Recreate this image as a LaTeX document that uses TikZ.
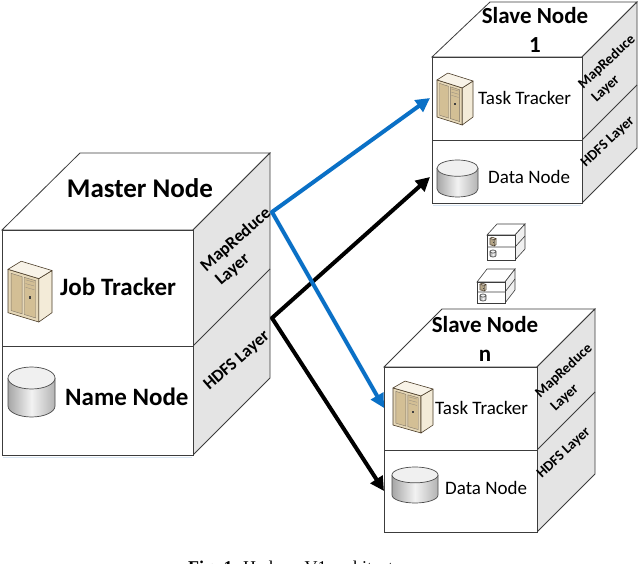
\documentclass[tikz,border=0pt]{standalone}
\usepackage{fontspec}
\setmainfont{Carlito}
\newfontfamily\capfont{Liberation Serif}
\usetikzlibrary{arrows.meta}
\definecolor{edge}{HTML}{3C3C3C}
\definecolor{sideg}{HTML}{E4E4E4}
\definecolor{arrblue}{HTML}{0A70C6}
\definecolor{beigeF}{HTML}{E6D8B8}
\definecolor{beigeS}{HTML}{F3EBD8}
\definecolor{beigeT}{HTML}{F8F3E8}
\definecolor{beigeP}{HTML}{D3BF95}
\definecolor{srvedge}{HTML}{4A3C28}
\definecolor{shadowblue}{HTML}{D6E4F2}
\tikzset{
  face/.style={draw=edge, line width=0.8pt, fill=white},
  sideface/.style={draw=edge, line width=0.8pt, fill=sideg},
  divline/.style={draw=edge, line width=0.8pt},
  shline/.style={draw=shadowblue, line width=1pt},
  srvline/.style={draw=srvedge, line width=0.6pt, line join=round},
  panel/.style={draw=srvedge!70, line width=0.4pt, fill=beigeP},
  dbline/.style={draw=black!70, line width=0.7pt},
  bigtitle/.style={font=\bfseries\fontsize{27}{32}\selectfont, inner sep=0pt},
  bigtext/.style={font=\bfseries\fontsize{25}{30}\selectfont, inner sep=0pt, anchor=west},
  slavetitle/.style={font=\bfseries\fontsize{23}{29}\selectfont, inner sep=0pt, align=center},
  slavetext/.style={font=\fontsize{19}{22}\selectfont, inner sep=0pt, anchor=west},
  bigside/.style={font=\bfseries\fontsize{17.5}{20}\selectfont, inner sep=0pt, rotate=41},
  smallside/.style={font=\bfseries\fontsize{14.5}{17}\selectfont, inner sep=0pt, rotate=43},
  bluearrow/.style={draw=arrblue, line width=4pt, -{Triangle[length=14pt,width=14pt]}},
  blackarrow/.style={draw=black, line width=4pt, -{Triangle[length=14pt,width=14pt]}},
  caption/.style={font=\capfont\fontsize{18}{20}\selectfont, inner sep=0pt, anchor=base west}
}
% server icon in box (x,y) size w x h (pixel units, y down)
\newcommand\srvicon[4]{%
  \begin{scope}[shift={(#1,#2)},x=#3pt,y=-#4pt]
    \draw[srvline, fill=beigeF] (0,0.15) -- (0.7,0.3) -- (0.7,1) -- (0,0.85) -- cycle;
    \draw[srvline, fill=beigeS] (0.7,0.3) -- (1,0.17) -- (1,0.85) -- (0.7,1) -- cycle;
    \draw[srvline, fill=beigeT] (0,0.15) -- (0.3,0.02) -- (1,0.17) -- (0.7,0.3) -- cycle;
    \draw[panel] (0.07,0.215) -- (0.32,0.269) -- (0.32,0.869) -- (0.07,0.815) -- cycle;
    \draw[panel] (0.37,0.279) -- (0.63,0.335) -- (0.63,0.935) -- (0.37,0.879) -- cycle;
    \foreach \v in {0.30,0.36,0.42}{\draw[srvedge!60, line width=0.3pt] (0.40,\v+0.02) -- (0.60,\v+0.06);}
    \fill[black!75] (0.47,0.58) rectangle (0.53,0.63);
  \end{scope}}
% database icon
\newcommand\dbicon[4]{%
  \begin{scope}[shift={(#1,#2)},x=#3pt,y=-#4pt]
    \shade[left color=black!35, right color=black!30, middle color=black!5]
      (0,0.22) -- (0,0.78) arc[start angle=180, end angle=0, x radius=0.5, y radius=0.22]
      -- (1,0.22) arc[start angle=0, end angle=180, x radius=0.5, y radius=0.22] -- cycle;
    \draw[dbline] (0,0.22) -- (0,0.78) arc[start angle=180, end angle=0, x radius=0.5, y radius=0.22] -- (1,0.22);
    \draw[dbline, fill=black!6] (0.5,0.22) ellipse [x radius=0.5, y radius=0.22];
  \end{scope}}
\begin{document}
\begin{tikzpicture}[x=1pt,y=-1pt]
\useasboundingbox (0,0) rectangle (640,564);
\clip (0,0) rectangle (640,564);
\fill[white] (0,0) rectangle (640,564);

% ---------------- Master node cube ----------------
\draw[face] (2,230) -- (80,153) -- (270,153) -- (193,230) -- cycle;
\draw[sideface] (193,230) -- (270,153) -- (270,378) -- (193,455) -- cycle;
\draw[divline] (193,346) -- (270,269);
\draw[shline] (3,348.5) -- (192,348.5);
\draw[shline] (3,457.5) -- (192,457.5);
\draw[face] (2,230) rectangle (193,455);
\draw[divline] (2,346) -- (193,346);
\node[bigtitle] (mtitle) at (140,188) {Master Node};
\srvicon{8}{260}{44}{62}
\node[bigtext] (jt) at (60,287) {Job Tracker};
\dbicon{8}{367}{47}{50}
\node[bigtext] (nn) at (65,397) {Name Node};
\node[bigside] (mmr) at (236,240) {MapReduce};
\node[bigside] (mly) at (233,270) {Layer};
\node[bigside] (mhd) at (237,361) {HDFS Layer};

% ---------------- Slave node 1 ----------------
\draw[face] (432,57) -- (490,2) -- (637,2) -- (582,57) -- cycle;
\draw[sideface] (582,57) -- (637,2) -- (637,148) -- (582,203) -- cycle;
\draw[divline] (582,140) -- (637,85);
\draw[shline] (433,142.5) -- (581,142.5);
\draw[shline] (433,205.5) -- (581,205.5);
\draw[face] (432,57) rectangle (582,203);
\draw[divline] (432,140) -- (582,140);
\node[slavetitle] (s1title) at (535,30) {Slave Node\\1};
\srvicon{437}{72}{36}{53}
\node[slavetext] (s1tt) at (478,98) {Task Tracker};
\dbicon{437}{160}{41}{37}
\node[slavetext] (s1dn) at (488,177) {Data Node};
\node[smallside] (s1mr) at (607,62) {MapReduce};
\node[smallside] (s1ly) at (606,89) {Layer};
\node[smallside] (s1hd) at (608,142) {HDFS Layer};

% ---------------- small cubes ----------------
\draw[face, line width=0.6pt] (487,235) -- (497,224) -- (525,224) -- (515,235) -- cycle;
\draw[sideface, line width=0.6pt, fill=black!6] (515,235) -- (525,224) -- (525,249) -- (515,260) -- cycle;
\draw[face, line width=0.6pt] (487,235) rectangle (515,260);
\draw[divline, line width=0.6pt] (487,247) -- (515,247) -- (525,236);
\srvicon{490}{237}{6}{9}
\dbicon{490}{250}{6}{7}

\draw[face, line width=0.6pt] (477,282) -- (487,269) -- (515,269) -- (505,282) -- cycle;
\draw[sideface, line width=0.6pt, fill=black!6] (505,282) -- (515,269) -- (515,290) -- (505,303) -- cycle;
\draw[face, line width=0.6pt] (477,282) rectangle (505,303);
\draw[divline, line width=0.6pt] (477,292) -- (505,292) -- (515,279);
\srvicon{480}{283}{6}{8}
\dbicon{480}{294}{6}{7}

% ---------------- Slave node n ----------------
\draw[face] (384,367) -- (442,309) -- (595,309) -- (537,367) -- cycle;
\draw[sideface] (537,367) -- (595,309) -- (595,474) -- (537,532) -- cycle;
\draw[divline] (537,450) -- (595,392);
\draw[shline] (385,452.5) -- (536,452.5);
\draw[face] (384,367) rectangle (537,532);
\draw[divline] (384,450) -- (537,450);
\node[slavetitle] (sntitle) at (485,339) {Slave Node\\n};
\srvicon{393}{380}{40}{53}
\node[slavetext] (sntt) at (435,408) {Task Tracker};
\dbicon{392}{467}{46}{36}
\node[slavetext] (sndn) at (445,488) {Data Node};
\node[smallside] (snmr) at (564,371) {MapReduce};
\node[smallside] (snly) at (565,398) {Layer};
\node[smallside] (snhd) at (564,453) {HDFS Layer};

% ---------------- connectors ----------------
\coordinate (mMR) at (272,212);
\coordinate (mHD) at (272,318);
\coordinate (s1in) at (430,98);
\coordinate (s1din) at (430,177);
\coordinate (snin) at (384,408);
\coordinate (sndin) at (384,491);
\draw[blackarrow] (mHD) -- (s1din);
\draw[blackarrow] (mHD) -- (sndin);
\draw[bluearrow] (mMR) -- (s1in);
\draw[bluearrow] (mMR) -- (snin);
\fill[arrblue] (mMR) circle (2pt);
\fill[black] (mHD) circle (2pt);

% ---------------- caption (cut off) ----------------
\node[caption] (cap) at (188,573) {\textbf{Fig. 1.} Hadoop V1 architecture};
\end{tikzpicture}
\end{document}
